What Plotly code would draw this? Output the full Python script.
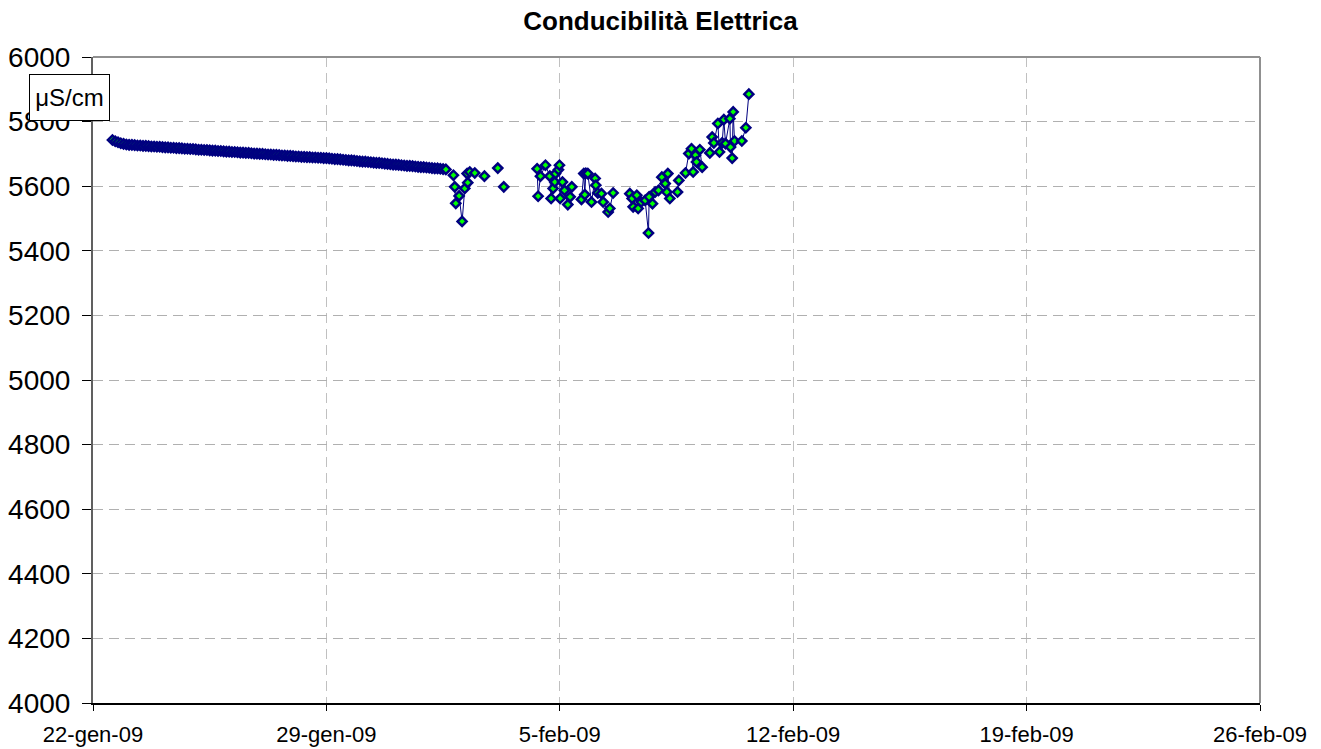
import datetime as dt
import plotly.graph_objects as go

# ---------------- data ----------------
title_text = "Conducibilità Elettrica"
unit_label = "μS/cm"

# dense logging period: one reading every 2 hours starting 22-gen-09 14:00
dense_start = "2009-01-22 14:00"
dense_step_hours = 2
dense_values = [
    5743, 5739, 5736, 5733, 5731, 5729, 5728, 5728, 5727, 5726,
    5726, 5725, 5725, 5724, 5723, 5723, 5722, 5722, 5721, 5720,
    5720, 5719, 5719, 5718, 5718, 5717, 5716, 5716, 5715, 5715,
    5714, 5713, 5713, 5712, 5712, 5711, 5710, 5710, 5709, 5709,
    5708, 5707, 5707, 5706, 5706, 5705, 5704, 5704, 5703, 5703,
    5702, 5701, 5701, 5700, 5700, 5699, 5698, 5698, 5697, 5697,
    5696, 5695, 5695, 5694, 5694, 5693, 5692, 5692, 5691, 5691,
    5690, 5690, 5689, 5689, 5688, 5688, 5687, 5687, 5686, 5685,
    5684, 5684, 5683, 5682, 5681, 5680, 5680, 5679, 5678, 5677,
    5676, 5676, 5675, 5674, 5673, 5672, 5672, 5671, 5670, 5669,
    5668, 5667, 5667, 5666, 5665, 5664, 5663, 5663, 5662, 5661,
    5660, 5659, 5659, 5658, 5657, 5656, 5655, 5655, 5654, 5653, 5652,
]

# sparse readings afterwards: days after 22-gen-09 00:00, value
sparse_days = [
    10.81, 10.85, 10.88, 10.98, 11.07, 11.15, 11.22, 11.24, 11.30, 11.45,
    11.74, 12.14, 12.32,
    13.32, 13.35, 13.42, 13.57, 13.70, 13.74, 13.80, 13.85, 13.87, 13.96,
    13.99, 14.01, 14.08, 14.14, 14.24, 14.31, 14.36,
    14.65, 14.72, 14.75, 14.78, 14.84, 14.95, 15.06, 15.08, 15.14, 15.25,
    15.30, 15.45, 15.50, 15.60,
    16.10, 16.17, 16.20, 16.31, 16.35, 16.44, 16.56, 16.66, 16.68, 16.78,
    16.86, 16.96, 17.06, 17.16, 17.21, 17.24, 17.30,
    17.53, 17.57, 17.77, 17.87, 17.95, 18.00, 18.07, 18.10, 18.20, 18.27,
    18.50, 18.57, 18.62, 18.74, 18.79, 18.87, 18.92, 18.97, 19.10, 19.12,
    19.17, 19.20, 19.24, 19.46, 19.58, 19.67,
]
sparse_values = [
    5634, 5598, 5547, 5570, 5491, 5593, 5639, 5611, 5644, 5641,
    5631, 5656, 5598,
    5654, 5569, 5631, 5665, 5631, 5562, 5593, 5613, 5639, 5651,
    5665, 5562, 5613, 5587, 5543, 5567, 5598,
    5559, 5639, 5574, 5640, 5639, 5551, 5624, 5603, 5579, 5577,
    5551, 5520, 5531, 5579,
    5577, 5562, 5536, 5572, 5531, 5551, 5556, 5455, 5567, 5546,
    5582, 5587, 5628, 5608, 5582, 5639, 5562,
    5582, 5618, 5641, 5701, 5716, 5644, 5696, 5675, 5713, 5659,
    5703, 5752, 5734, 5794, 5706, 5734, 5806, 5732, 5809, 5721,
    5687, 5830, 5740, 5740, 5781, 5885,
]

x_tick_dates = ["2009-01-22", "2009-01-29", "2009-02-05", "2009-02-12", "2009-02-19", "2009-02-26"]
x_tick_labels = ["22-gen-09", "29-gen-09", "5-feb-09", "12-feb-09", "19-feb-09", "26-feb-09"]
y_ticks = [4000, 4200, 4400, 4600, 4800, 5000, 5200, 5400, 5600, 5800, 6000]

# ---------------- build series ----------------
t0 = dt.datetime(2009, 1, 22)
d0 = dt.datetime.strptime(dense_start, "%Y-%m-%d %H:%M")
times = [d0 + dt.timedelta(hours=dense_step_hours * i) for i in range(len(dense_values))]
vals = list(dense_values)

prev = times[-1]
for d, v in zip(sparse_days, sparse_values):
    t = t0 + dt.timedelta(days=d)
    if (t - prev).total_seconds() > 0.17 * 86400:
        times.append(prev + (t - prev) / 2)
        vals.append(None)
    times.append(t)
    vals.append(v)
    prev = t

font_family = "Liberation Sans, Arial, sans-serif"

L, R, T, B = 93, 61, 57, 46
W, H = 1321, 749
pw, ph = W - L - R, H - T - B

fig = go.Figure()
fig.add_trace(go.Scatter(
    x=times, y=vals, mode="lines+markers", connectgaps=False,
    line=dict(color="#000080", width=1),
    marker=dict(symbol="diamond", size=7, color="#00FF00",
                line=dict(color="#000080", width=2.5)),
    showlegend=False, hoverinfo="x+y",
))

fig.update_layout(
    width=W, height=H,
    paper_bgcolor="white", plot_bgcolor="white",
    margin=dict(l=L, r=R, t=T, b=B, autoexpand=False),
    title=dict(text="<b>" + title_text + "</b>", x=0.5, xref="container",
               y=1 - 21 / H, yref="container", yanchor="middle", xanchor="center",
               font=dict(family=font_family, size=26, color="black")),
    font=dict(family=font_family, color="black"),
)

fig.update_xaxes(
    type="date", automargin=False,
    range=[x_tick_dates[0], x_tick_dates[-1]],
    tickvals=x_tick_dates, ticktext=x_tick_labels,
    tickfont=dict(size=22, family=font_family, color="black"),
    showline=True, linecolor="black", linewidth=1.5,
    ticks="outside", ticklen=6, tickcolor="black", tickwidth=1,
    showgrid=True, gridcolor="#C0C0C0", gridwidth=1, griddash="10px,6px",
    zeroline=False, ticklabelstandoff=5,
)
fig.update_yaxes(
    range=[4000, 6000], automargin=False,
    tickvals=y_ticks,
    tickfont=dict(size=28, family=font_family, color="black"),
    showline=True, linecolor="#606060", linewidth=2,
    ticks="outside", ticklen=9, tickcolor="black", tickwidth=1,
    showgrid=True, gridcolor="#B0B0B0", gridwidth=1, griddash="10px,6px",
    zeroline=False, ticklabelstandoff=6,
)

# plot frame (top and right edges)
fig.add_shape(type="line", xref="paper", yref="paper", x0=0, x1=1, y0=1, y1=1,
              line=dict(color="#909090", width=2))
fig.add_shape(type="line", xref="paper", yref="paper", x0=1, x1=1, y0=0, y1=1,
              line=dict(color="#909090", width=2))

# unit label box
fig.add_annotation(
    text=unit_label, xref="paper", yref="paper",
    x=(69.5 - L) / pw, y=(H - B - 97.5) / ph,
    xanchor="center", yanchor="middle", showarrow=False,
    width=71, height=37, align="center", valign="middle",
    font=dict(family=font_family, size=24, color="black"),
    bgcolor="white", bordercolor="black", borderwidth=1, borderpad=4,
)

fig.write_html("out.html",
               config={"displayModeBar": False},
               post_script="document.body.style.margin='0';document.body.style.overflow='hidden';")
